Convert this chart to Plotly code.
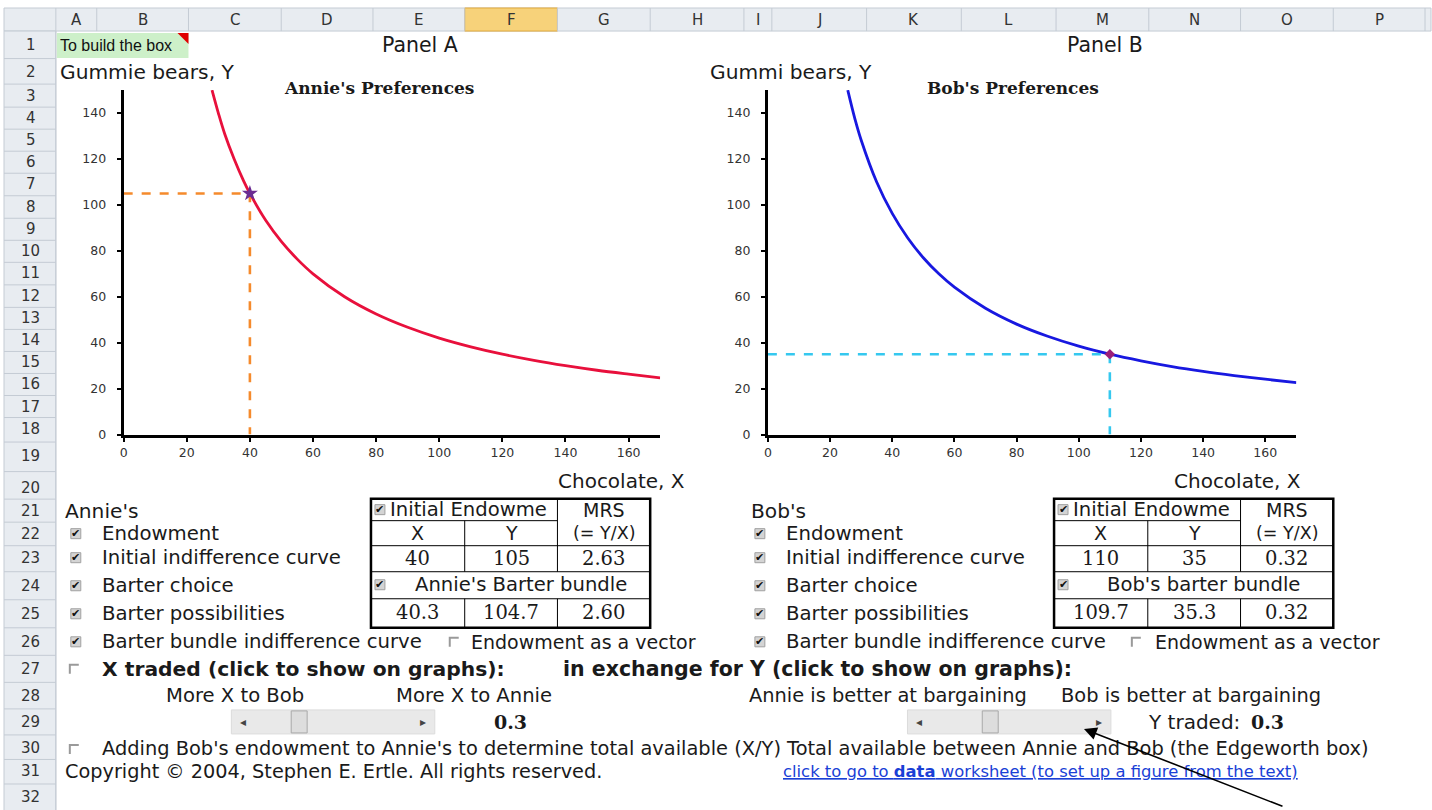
import plotly.graph_objects as go

W, H = 1432, 810
SY = 1.01  # vertical correction so positions line up with the reference

# ---------------- data ----------------
annie_x = [28, 30, 32, 35, 38, 40, 45, 50, 55, 60, 70, 80, 90, 100, 110, 120, 130, 140, 150, 160, 170]
annie_y = [150, 140, 131, 120, 110.5, 105, 93.3, 84, 76.4, 70, 60, 52.5, 46.7, 42, 38.2, 35, 32.3, 30, 28, 26.3, 24.7]
bob_x = [25.7, 28, 30, 35, 40, 45, 50, 55, 60, 70, 80, 90, 100, 110, 120, 130, 140, 150, 160, 170]
bob_y = [150, 137.5, 128.3, 110, 96.3, 85.6, 77, 70, 64.2, 55, 48.1, 42.8, 38.5, 35, 32.1, 29.6, 27.5, 25.7, 24.1, 22.6]
annie_endow = [40, 105]
bob_endow = [110, 35]
x_ticks = [0, 20, 40, 60, 80, 100, 120, 140, 160]
y_ticks = [0, 20, 40, 60, 80, 100, 120, 140]

annie_initial = ["40", "105", "2.63"]
annie_barter = ["40.3", "104.7", "2.60"]
bob_initial = ["110", "35", "0.32"]
bob_barter = ["109.7", "35.3", "0.32"]
x_traded = "0.3"
y_traded = "0.3"

col_letters = ["A", "B", "C", "D", "E", "F", "G", "H", "I", "J", "K", "L", "M", "N", "O", "P"]
col_edges = [52, 93, 185, 278, 370, 462, 555, 648, 742, 770, 865, 960, 1055, 1148, 1240, 1333, 1425]
row_centers = [45, 72, 96, 118, 140, 162, 184, 207, 229, 251, 273, 296, 318, 340, 362, 384,
               406, 428, 455, 487, 510, 533, 557, 585, 613, 641, 668, 695, 721, 747, 770, 796]

SANS = "DejaVu Sans"
SERIF = "DejaVu Serif"
TXT = "#1a1a1a"


def px(x):
    return x / W


def py(y):
    return 1 - (y * SY) / H


shapes = []
annotations = []


def text(x, y, s, size=19.5, anchor="left", family=SANS, color=TXT, bold=False, **kw):
    if bold:
        s = "<b>" + s + "</b>"
    annotations.append(dict(x=px(x), y=py(y), xref="paper", yref="paper", text=s,
                            showarrow=False, xanchor=anchor, yanchor="middle",
                            font=dict(family=family, size=size, color=color), **kw))


def rect(x0, y0, x1, y1, fill=None, line="black", lw=1):
    shapes.append(dict(type="rect", xref="paper", yref="paper",
                       x0=px(x0), x1=px(x1), y0=py(y1), y1=py(y0),
                       fillcolor=fill if fill else "rgba(0,0,0,0)",
                       line=dict(color=line, width=lw), layer="above"))


def hline(x0, x1, y, color="black", lw=1):
    shapes.append(dict(type="line", xref="paper", yref="paper",
                       x0=px(x0), x1=px(x1), y0=py(y), y1=py(y),
                       line=dict(color=color, width=lw), layer="above"))


def vline(x, y0, y1, color="black", lw=1):
    shapes.append(dict(type="line", xref="paper", yref="paper",
                       x0=px(x), x1=px(x), y0=py(y0), y1=py(y1),
                       line=dict(color=color, width=lw), layer="above"))


def checkbox(x, y, checked=True):
    if checked:
        rect(x - 5, y - 5, x + 5, y + 5, fill="#d4d4d4", line="#a0a0a0", lw=1)
        text(x, y, "✔", size=11, anchor="center", color="#111")
    else:
        shapes.append(dict(type="path", xref="paper", yref="paper",
                           path="M %f,%f L %f,%f L %f,%f" % (px(x - 4), py(y + 5), px(x - 4), py(y - 4), px(x + 5), py(y - 4)),
                           line=dict(color="#9a9a9a", width=2), layer="above"))


# ---------------- spreadsheet frame ----------------
hdr_fill = "#e8ecf1"
sep = "#c4cbd4"
rect(0, 8, W - 1, 31, fill=hdr_fill, line=sep)
rect(0, 31, 52, H + 10, fill=hdr_fill, line=sep)
rect(col_edges[5], 8, col_edges[6], 31, fill="#f7d27a", line="#e2a93b")
for i, L in enumerate(col_letters):
    vline(col_edges[i + 1], 8, 31, color=sep)
    text((col_edges[i] + col_edges[i + 1]) / 2, 20, L, size=15, anchor="center", color="#333")
vline(52, 8, H + 10, color=sep)
bounds = [31] + [(row_centers[i] + row_centers[i + 1]) / 2 for i in range(len(row_centers) - 1)] + [H + 10]
for i, c in enumerate(row_centers):
    hline(0, 52, bounds[i + 1], color=sep)
    text(27, c, str(i + 1), size=15, anchor="center", color="#333")

# green comment cell
rect(53, 33, 185, 58, fill="#cdf0c9", line="rgba(0,0,0,0)", lw=0)
shapes.append(dict(type="path", xref="paper", yref="paper",
                   path="M %f,%f L %f,%f L %f,%f Z" % (px(174), py(33), px(185), py(33), px(185), py(44)),
                   fillcolor="#e00000", line=dict(width=0), layer="above"))
annotations.append(dict(x=px(54), y=py(45), xref="paper", yref="paper", text="To build the box",
                        showarrow=False, xanchor="left", yanchor="middle", width=128, align="left",
                        font=dict(family="Liberation Sans Narrow, Liberation Sans", size=16, color="#111")))

# ---------------- chart texts ----------------
text(417, 45, "Panel A", size=20.5, anchor="center")
text(1104, 45, "Panel B", size=20.5, anchor="center")
text(54, 72, "Gummie bears, Y", size=20.2)
text(706, 72, "Gummi bears, Y", size=20.2)
text(376, 88, "Annie's Preferences", size=17, anchor="center", family="DejaVu Serif", bold=True)
text(1012, 88, "Bob's Preferences", size=17, anchor="center", family="DejaVu Serif", bold=True)
text(685, 480, "Chocolate, X", size=20, anchor="right")
text(1303, 480, "Chocolate, X", size=20, anchor="right")

# ---------------- controls ----------------
labels = ["Endowment", "Initial indifference curve", "Barter choice", "Barter possibilities",
          "Barter bundle indifference curve"]
label_y = [533, 557, 585, 613, 641]
text(59, 510, "Annie's", size=20.2)
text(747, 510, "Bob's", size=20.2)
for lab, yy in zip(labels, label_y):
    checkbox(72, yy)
    text(96, yy, lab, size=19.7)
    checkbox(758, yy)
    text(782, yy, lab, size=19.7)
checkbox(451, 641, False)
text(466, 641, "Endowment as a vector", size=19)
checkbox(1135, 641, False)
text(1152, 641, "Endowment as a vector", size=19)


def table(x0, initial, barter, title):
    c = [x0, x0 + 94, x0 + 187, x0 + 280]
    ys = [498, 520, 545, 571, 598, 627]
    rect(c[0], ys[0], c[3], ys[5], line="black", lw=2.5)
    hline(c[0], c[2], ys[1])
    hline(c[0], c[3], ys[2])
    hline(c[0], c[3], ys[3])
    hline(c[0], c[3], ys[4])
    vline(c[2], ys[0], ys[3])
    vline(c[1], ys[1], ys[3])
    vline(c[1], ys[4], ys[5])
    vline(c[2], ys[4], ys[5])
    checkbox(c[0] + 9, 509)
    text(c[0] + 17, 509, "Initial Endowme", size=19.6)
    text((c[2] + c[3]) / 2, 509, "MRS", size=19, anchor="center")
    text((c[0] + c[1]) / 2, 532, "X", size=19, anchor="center")
    text((c[1] + c[2]) / 2, 532, "Y", size=19, anchor="center")
    text((c[2] + c[3]) / 2, 532, "(= Y/X)", size=17.5, anchor="center")
    for i in range(3):
        text((c[i] + c[i + 1]) / 2, 558, initial[i], size=19.5, anchor="center", family=SERIF)
        text((c[i] + c[i + 1]) / 2, 612, barter[i], size=19.5, anchor="center", family=SERIF)
    checkbox(c[0] + 9, 584)
    text((c[0] + c[3]) / 2 + 10, 584, title, size=19.6, anchor="center")


table(368, annie_initial, annie_barter, "Annie's Barter bundle")
table(1053, bob_initial, bob_barter, "Bob's barter bundle")

checkbox(70, 668, False)
text(96, 668, "X traded (click to show on graphs):", size=20.3, bold=True)
text(559, 668, "in exchange for Y (click to show on graphs):", size=20.5, bold=True)
text(232, 695, "More X to Bob", anchor="center", size=19.6)
text(471, 695, "More X to Annie", anchor="center", size=19.6)
text(886, 695, "Annie is better at bargaining", anchor="center", size=19.4)
text(1190, 695, "Bob is better at bargaining", anchor="center", size=19.4)


def slider(x0, x1, thumb):
    rect(x0, 709, x1, 733, fill="#e9e9e9", line="#dcdcdc")
    rect(thumb, 710, thumb + 16, 732, fill="#dddddd", line="#a8a8a8")
    text(x0 + 12, 721, "◂", size=12, anchor="center", color="#444")
    text(x1 - 12, 721, "▸", size=12, anchor="center", color="#444")


slider(228, 432, 288)
slider(906, 1110, 981)
text(508, 721, x_traded, size=19, anchor="center", family=SERIF, bold=True)
text(1241, 721, "Y traded:", size=20, anchor="right")
text(1248, 721, y_traded, size=19, family=SERIF, bold=True)

checkbox(70, 748, False)
text(96, 748, "Adding Bob's endowment to Annie's to determine total available (X/Y) "
              "Total available between Annie and Bob (the Edgeworth box)", size=19.4)
text(59, 771, "Copyright © 2004, Stephen E. Ertle. All rights reserved.", size=19.3)
text(779, 771, "<u>click to go to <b>data</b> worksheet (to set up a figure from the text)</u>",
     size=16.4, color="#1a3fd6")

annotations.append(dict(x=px(1083), y=py(728), xref="paper", yref="paper", text="",
                        showarrow=True, ax=200, ay=78, axref="pixel", ayref="pixel",
                        arrowhead=2, arrowsize=1.6, arrowwidth=1.6, arrowcolor="black"))

# ---------------- figure ----------------
fig = go.Figure()
fig.add_trace(go.Scatter(x=annie_x, y=annie_y, mode="lines", line=dict(color="#e8103c", width=2.8, shape="spline"),
                         xaxis="x", yaxis="y", showlegend=False, hoverinfo="skip"))
fig.add_trace(go.Scatter(x=[0, annie_endow[0], annie_endow[0]], y=[annie_endow[1], annie_endow[1], 0], mode="lines",
                         line=dict(color="#f58a2c", width=2.6, dash="dash"), xaxis="x", yaxis="y", showlegend=False))
fig.add_trace(go.Scatter(x=[annie_endow[0]], y=[annie_endow[1]], mode="markers",
                         marker=dict(symbol="star", size=12, color="#6b2c91"), xaxis="x", yaxis="y", showlegend=False))

fig.add_trace(go.Scatter(x=bob_x, y=bob_y, mode="lines", line=dict(color="#1818e0", width=2.8, shape="spline"),
                         xaxis="x2", yaxis="y2", showlegend=False, hoverinfo="skip"))
fig.add_trace(go.Scatter(x=[0, bob_endow[0], bob_endow[0]], y=[bob_endow[1], bob_endow[1], 0], mode="lines",
                         line=dict(color="#35c8ef", width=2.6, dash="dash"), xaxis="x2", yaxis="y2", showlegend=False))
fig.add_trace(go.Scatter(x=[bob_endow[0]], y=[bob_endow[1]], mode="markers",
                         marker=dict(symbol="diamond", size=8, color="#9b1f7a"), xaxis="x2", yaxis="y2", showlegend=False))

axis_common = dict(showline=True, linewidth=3, linecolor="black", ticks="outside", ticklen=4, tickwidth=1.5,
                   tickcolor="black", showgrid=False, zeroline=False, fixedrange=True,
                   tickfont=dict(family=SANS, size=12.5, color="#333"))

fig.update_layout(
    width=W, height=H, margin=dict(l=0, r=0, t=0, b=0),
    paper_bgcolor="white", plot_bgcolor="white", showlegend=False,
    xaxis=dict(domain=[px(120), px(658)], range=[0, 170], anchor="y", tickvals=x_ticks, **axis_common),
    yaxis=dict(domain=[py(434), py(90)], range=[0, 150], anchor="x", tickvals=y_ticks,
               ticklabelstandoff=8, **axis_common),
    xaxis2=dict(domain=[px(766), px(1296)], range=[0, 170], anchor="y2", tickvals=x_ticks, **axis_common),
    yaxis2=dict(domain=[py(434), py(90)], range=[0, 150], anchor="x2", tickvals=y_ticks,
                ticklabelstandoff=8, **axis_common),
    shapes=shapes, annotations=annotations,
)

fig.write_html(
    "out.html",
    config={"displayModeBar": False},
    post_script=("var d=document.getElementById('{plot_id}');"
                 "d.style.position='fixed';d.style.top='0px';d.style.left='0px';"
                 "var b=document.body.style;b.margin='0';b.padding='0';b.overflow='hidden';"),
)
